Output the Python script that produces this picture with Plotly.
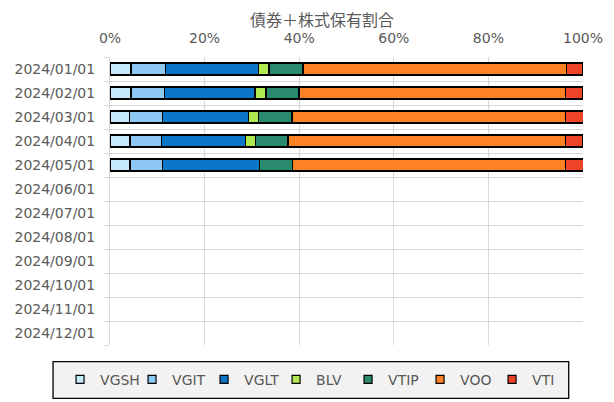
import plotly.graph_objects as go

months = ["2024/01/01", "2024/02/01", "2024/03/01", "2024/04/01", "2024/05/01", "2024/06/01",
          "2024/07/01", "2024/08/01", "2024/09/01", "2024/10/01", "2024/11/01", "2024/12/01"]
x_ticks = [0, 20, 40, 60, 80, 100]
x_tick_labels = ["0%", "20%", "40%", "60%", "80%", "100%"]

series_names = ["VGSH", "VGIT", "VGLT", "BLV", "VTIP", "VOO", "VTI"]
vgsh = [4.4, 4.4, 4.1, 4.2, 4.2]
vgit = [7.3, 7.1, 7.0, 6.7, 6.9]
vglt = [19.65, 19.2, 18.2, 17.75, 20.5]
blv = [2.3, 2.3, 2.1, 2.1, 0.0]
vtip = [7.2, 7.0, 7.1, 6.85, 7.0]
voo = [55.65, 56.3, 57.8, 58.65, 57.7]
vti = [3.5, 3.7, 3.8, 3.8, 3.8]
series_values = [vgsh, vgit, vglt, blv, vtip, voo, vti]
colors = ["#C5EAF9", "#8EC8F4", "#0C77C8", "#AEEA50", "#2A8A6E", "#FD8223", "#EE4528"]

font_main = "DejaVu Sans"
text_color = "#595959"
grid_color = "#D9D9D9"

fig = go.Figure()
for name, vals, col in zip(series_names, series_values, colors):
    fig.add_trace(go.Bar(
        name=name,
        x=vals,
        y=list(range(len(vals))),
        orientation="h",
        marker=dict(color=col, line=dict(color="black", width=1.5)),
        width=0.5,
        legendgroup=name,
        showlegend=False,
    ))
# legend entries (small squares like the reference)
for name, col in zip(series_names, colors):
    fig.add_trace(go.Scatter(
        name=name, x=[None], y=[None], mode="markers",
        marker=dict(symbol="square", size=8, color=col, line=dict(color="black", width=1.2)),
        legendgroup=name, showlegend=True, hoverinfo="skip",
    ))

# legend box
fig.add_shape(type="rect", xref="paper", yref="paper",
              x0=-0.1204, x1=0.9698, y0=-0.185, y1=-0.058,
              fillcolor="#F2F2F2", line=dict(color="black", width=1.3), layer="below")

fig.update_layout(
    width=606, height=394,
    margin=dict(l=102, r=30.7, t=49, b=57, autoexpand=False),
    paper_bgcolor="white", plot_bgcolor="white",
    barmode="stack", bargap=0.5,
    title=dict(text="債券＋株式保有割合", x=0.518, xanchor="center", xref="container",
               y=1 - 12 / 394, yanchor="middle",
               font=dict(family="Noto Sans CJK JP", size=16, color=text_color)),
    font=dict(family=font_main, size=14, color=text_color),
    showlegend=True,
    legend=dict(orientation="h", x=-0.1056, xanchor="left",
                y=-0.121, yanchor="middle", entrywidth=27, entrywidthmode="pixels",
                bgcolor="rgba(0,0,0,0)", traceorder="normal",
                font=dict(family=font_main, size=14, color=text_color)),
    xaxis=dict(range=[0, 100], side="top", tickvals=x_ticks, ticktext=x_tick_labels,
               showgrid=True, gridcolor=grid_color, gridwidth=1, zeroline=False,
               showline=False, ticks="", tickfont=dict(size=14, color=text_color),
               ticklabelstandoff=10, automargin=False, fixedrange=True),
    yaxis=dict(range=[11.5, -0.5], tickvals=list(range(len(months))), ticktext=months,
               showgrid=False, zeroline=False, showline=True, linecolor=grid_color, linewidth=1,
               ticks="", tickfont=dict(size=14, color=text_color),
               ticklabelstandoff=11, automargin=False,
               minor=dict(tick0=0.5, dtick=1, showgrid=True, gridcolor=grid_color, gridwidth=1,
                          ticks="outside", ticklen=5, tickcolor=grid_color),
               fixedrange=True),
)

fig.write_html("out.html")
